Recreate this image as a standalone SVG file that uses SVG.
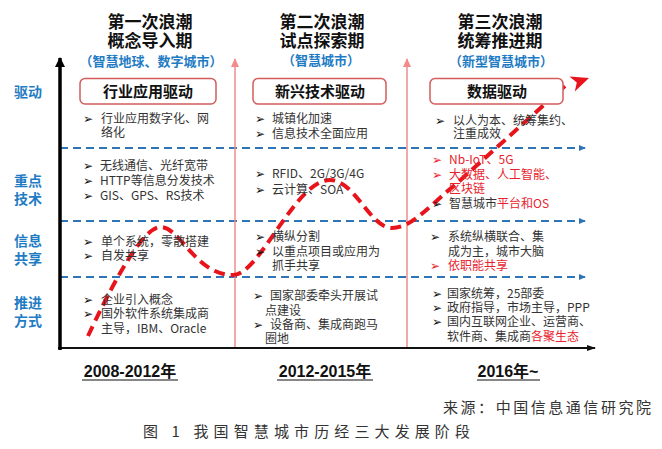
<svg xmlns="http://www.w3.org/2000/svg" width="662" height="449" viewBox="0 0 662 449">
<defs>
<marker id="ab" markerWidth="8" markerHeight="8" refX="6" refY="4" orient="auto" markerUnits="userSpaceOnUse"><path d="M0,1 L7,4 L0,7 Z" fill="#2e75b6"/></marker>
<marker id="ak" markerWidth="12" markerHeight="12" refX="9" refY="6" orient="auto" markerUnits="userSpaceOnUse"><path d="M0,1 L10,6 L0,11 Z" fill="#000"/></marker>
<marker id="ak2" markerWidth="10" markerHeight="10" refX="8" refY="5" orient="auto" markerUnits="userSpaceOnUse"><path d="M0,2 L9,5 L0,8 Z" fill="#111"/></marker>
<marker id="ap" markerWidth="10" markerHeight="10" refX="8" refY="5" orient="auto" markerUnits="userSpaceOnUse"><path d="M0,1 L9,5 L0,9 Z" fill="#f08c8c"/></marker>
</defs>
<style>
.hd{font-family:"Noto Sans CJK SC","Noto Sans",sans-serif;font-weight:bold;font-size:17px;fill:#111;text-anchor:middle}
.sub{font-family:"Noto Sans CJK SC","Noto Sans",sans-serif;font-weight:bold;font-size:13px;fill:#1f7cc4;text-anchor:middle}
.lab{font-family:"Noto Sans CJK SC","Noto Sans",sans-serif;font-weight:bold;font-size:14px;fill:#1f7cc4;text-anchor:middle}
.box{fill:#fff;stroke:#d25c5c;stroke-width:1.5}
.bt{font-family:"Noto Sans CJK SC","Noto Sans",sans-serif;font-weight:bold;font-size:15px;fill:#111;text-anchor:middle}
.tx{font-family:"Noto Sans CJK SC","Noto Sans",sans-serif;font-size:12px;fill:#333}
.rd{fill:#e8232d}
.bl{font-family:"DejaVu Sans",sans-serif;font-size:12px;fill:#111}
.blr{font-family:"DejaVu Sans",sans-serif;font-size:12px;fill:#e8232d}
.yr{font-family:"Liberation Sans","Noto Sans CJK SC",sans-serif;font-weight:bold;font-size:16px;fill:#111;text-anchor:middle}
.dl{stroke:#2e75b6;stroke-width:2;stroke-dasharray:8 5;fill:none}
.cap{font-family:"Noto Sans CJK SC",serif;font-size:15px;fill:#333}
</style>
<rect width="662" height="449" fill="#fff"/>
<g id="connectors">
<line x1="60" y1="148" x2="585" y2="148" class="dl" marker-end="url(#ab)"/>
<line x1="60" y1="221" x2="585" y2="221" class="dl" marker-end="url(#ab)"/>
<line x1="60" y1="277" x2="585" y2="277" class="dl" marker-end="url(#ab)"/>
<line x1="235" y1="348" x2="235" y2="59" stroke="#f08c8c" stroke-width="1.5" marker-end="url(#ap)"/>
<line x1="407" y1="348" x2="407" y2="59" stroke="#f08c8c" stroke-width="1.5" marker-end="url(#ap)"/>
<line x1="58" y1="348" x2="595" y2="348" stroke="#111" stroke-width="2" marker-end="url(#ak2)"/>
<line x1="60" y1="350" x2="60" y2="58" stroke="#000" stroke-width="3.5" marker-end="url(#ak)"/>
<path d="M88,336 C105,300 140,228 160,227 C180,226 195,275 233,275 C260,275 295,180 330,180 C355,180 370,228 392,228 C412,228 430,205 455,185 L565,86" fill="none" stroke="#e8141b" stroke-width="4" stroke-dasharray="11 6"/>
<polygon points="589,78 569.4,76.6 576.8,82.4 574.8,91.6" fill="#e8141b"/>
</g>
<g id="axis-labels">
<text class="lab" x="28" y="97">驱动</text>
<text class="lab" x="28" y="186">重点</text>
<text class="lab" x="28" y="204">技术</text>
<text class="lab" x="28" y="246">信息</text>
<text class="lab" x="28" y="264">共享</text>
<text class="lab" x="28" y="308">推进</text>
<text class="lab" x="28" y="326">方式</text>
</g>
<g id="wave1">
<text class="hd" x="150" y="28">第一次浪潮</text>
<text class="hd" x="150" y="47">概念导入期</text>
<text class="sub" x="151" y="66">（智慧地球、数字城市）</text>
<rect class="box" x="80" y="78.5" width="136" height="25.5" rx="5"/>
<text class="bt" x="148" y="97">行业应用驱动</text>
<text class="bl" x="83" y="123">➢</text><text class="tx" x="101" y="123">行业应用数字化、网</text>
<text class="tx" x="101" y="137">络化</text>
<text class="bl" x="83" y="170">➢</text><text class="tx" x="100" y="170">无线通信、光纤宽带</text>
<text class="bl" x="83" y="185">➢</text><text class="tx" x="100" y="185">HTTP等信息分发技术</text>
<text class="bl" x="83" y="200">➢</text><text class="tx" x="100" y="200">GIS、GPS、RS技术</text>
<text class="bl" x="83" y="246">➢</text><text class="tx" x="101" y="246">单个系统，零散搭建</text>
<text class="bl" x="83" y="260">➢</text><text class="tx" x="101" y="260">自发共享</text>
<text class="bl" x="83" y="304">➢</text><text class="tx" x="101" y="304">企业引入概念</text>
<text class="bl" x="83" y="318">➢</text><text class="tx" x="101" y="318">国外软件系统集成商</text>
<text class="tx" x="101" y="333">主导，IBM、Oracle</text>
<text class="yr" x="130" y="377">2008-2012年</text>
<line x1="82" y1="380" x2="178" y2="380" stroke="#111" stroke-width="1.2"/>
</g>
<g id="wave2">
<text class="hd" x="322" y="28">第二次浪潮</text>
<text class="hd" x="322" y="47">试点探索期</text>
<text class="sub" x="321" y="65">（智慧城市）</text>
<rect class="box" x="253" y="78.5" width="133" height="25.5" rx="5"/>
<text class="bt" x="320" y="97">新兴技术驱动</text>
<text class="bl" x="255" y="123">➢</text><text class="tx" x="272" y="123">城镇化加速</text>
<text class="bl" x="255" y="138">➢</text><text class="tx" x="272" y="138">信息技术全面应用</text>
<text class="bl" x="255" y="178">➢</text><text class="tx" x="272" y="178">RFID、2G/3G/4G</text>
<text class="bl" x="255" y="194">➢</text><text class="tx" x="272" y="194">云计算、SOA</text>
<text class="bl" x="255" y="241">➢</text><text class="tx" x="272" y="241">横纵分割</text>
<text class="bl" x="255" y="256">➢</text><text class="tx" x="272" y="256">以重点项目或应用为</text>
<text class="tx" x="272" y="270">抓手共享</text>
<text class="bl" x="253" y="300">➢</text><text class="tx" x="270" y="300">国家部委牵头开展试</text>
<text class="tx" x="265" y="315">点建设</text>
<text class="bl" x="253" y="329">➢</text><text class="tx" x="270" y="329">设备商、集成商跑马</text>
<text class="tx" x="265" y="343">圈地</text>
<text class="yr" x="325" y="377">2012-2015年</text>
<line x1="277" y1="380" x2="373" y2="380" stroke="#111" stroke-width="1.2"/>
</g>
<g id="wave3">
<text class="hd" x="500" y="28">第三次浪潮</text>
<text class="hd" x="500" y="47">统筹推进期</text>
<text class="sub" x="501" y="66">（新型智慧城市）</text>
<rect class="box" x="430" y="78.5" width="133" height="25.5" rx="5"/>
<text class="bt" x="497" y="97">数据驱动</text>
<text class="bl" x="435" y="125">➢</text><text class="tx" x="453" y="125">以人为本、统筹集约、</text>
<text class="tx" x="453" y="138">注重成效</text>
<text class="blr" x="432" y="164">➢</text><text class="tx rd" x="449" y="164">Nb-IoT、5G</text>
<text class="blr" x="432" y="179">➢</text><text class="tx rd" x="449" y="179">大数据、人工智能、</text>
<text class="tx rd" x="449" y="193">区块链</text>
<text class="bl" x="432" y="208">➢</text><text class="tx" x="449" y="208">智慧城市<tspan class="rd">平台和OS</tspan></text>
<text class="bl" x="430" y="241">➢</text><text class="tx" x="448" y="241">系统纵横联合、集</text>
<text class="tx" x="448" y="256">成为主，城市大脑</text>
<text class="blr" x="430" y="270">➢</text><text class="tx rd" x="448" y="270">依职能共享</text>
<text class="bl" x="432" y="298">➢</text><text class="tx" x="447" y="298">国家统筹，25部委</text>
<text class="bl" x="432" y="312">➢</text><text class="tx" x="447" y="312">政府指导，市场主导，PPP</text>
<text class="bl" x="432" y="326">➢</text><text class="tx" x="447" y="326">国内互联网企业、运营商、</text>
<text class="tx" x="447" y="341">软件商、集成商<tspan class="rd">各聚生态</tspan></text>
<text class="yr" x="508" y="377">2016年~</text>
<line x1="477" y1="380" x2="540" y2="380" stroke="#111" stroke-width="1.2"/>
</g>
<g id="caption">
<text class="cap" x="443" y="413" textLength="208" lengthAdjust="spacing" font-size="14">来源：中国信息通信研究院</text>
<text class="cap" x="143" y="437" textLength="327" lengthAdjust="spacing">图 1 我国智慧城市历经三大发展阶段</text>
</g>
</svg>
